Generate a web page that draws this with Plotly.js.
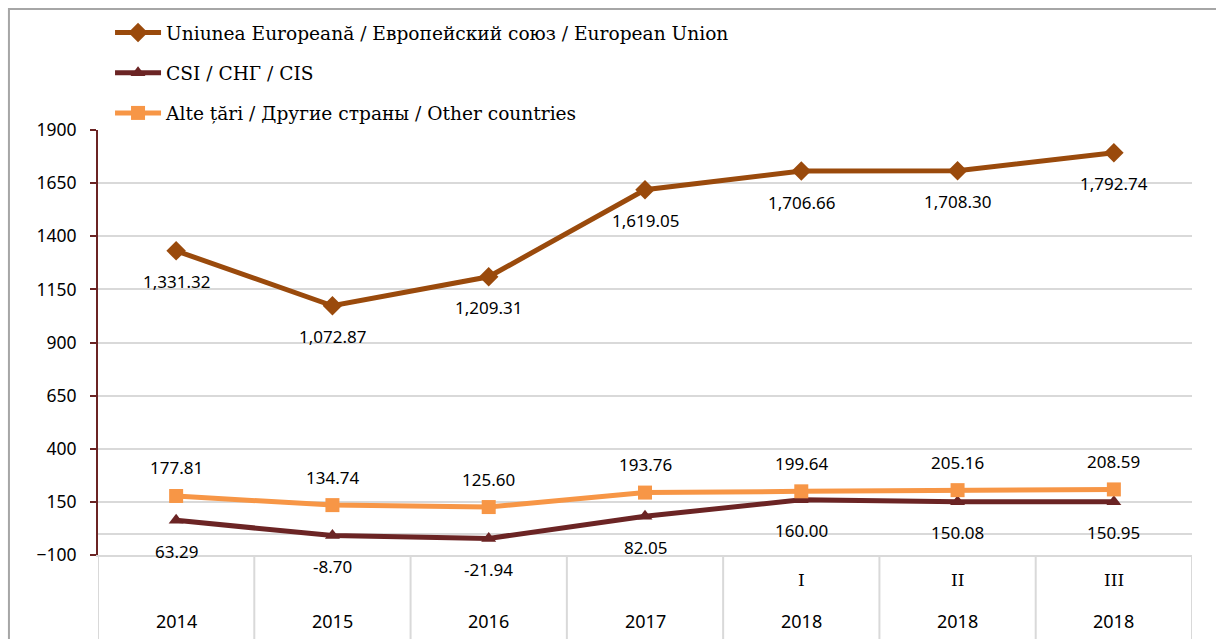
<!DOCTYPE html>
<html>
<head>
<meta charset="utf-8">
<script src="https://cdn.plot.ly/plotly-3.0.1.min.js"></script>
<style>
  html, body { margin: 0; padding: 0; background: #fff; }
  #chart { width: 1216px; height: 639px; }
</style>
</head>
<body>
<div id="chart"></div>
<script>
// Exports by destination group, 2014-2017 and 2018 quarters I-III
const categories = ["2014", "2015", "2016", "2017", "2018-I", "2018-II", "2018-III"];
const quarterLabels = ["", "", "", "", "I", "II", "III"];
const yearLabels = ["2014", "2015", "2016", "2017", "2018", "2018", "2018"];

const euValues = [1331.32, 1072.87, 1209.31, 1619.05, 1706.66, 1708.30, 1792.74];
const cisValues = [63.29, -8.70, -21.94, 82.05, 160.00, 150.08, 150.95];
const otherValues = [177.81, 134.74, 125.60, 193.76, 199.64, 205.16, 208.59];

const seriesNames = [
  "Uniunea Europeană / Европейский союз / European Union",
  "CSI / СНГ / CIS",
  "Alte țări / Другие страны / Other countries"
];

const sansFont = "Noto Sans, Lato, sans-serif";
const serifFont = "DejaVu Serif, Liberation Serif, serif";
const gridColor = "#d9d9d9";

const fmt = (v) => v.toLocaleString("en-US", { minimumFractionDigits: 2, maximumFractionDigits: 2 });

const series = [
  { name: seriesNames[0], y: euValues, color: "#9a4a0c", symbol: "diamond", size: 15, shift: -31 },
  { name: seriesNames[1], y: cisValues, color: "#6b2424", symbol: "triangle-up", size: 13, shift: -31 },
  { name: seriesNames[2], y: otherValues, color: "#f79646", symbol: "square", size: 14, shift: 28 }
];

const data = series.map((s, i) => ({
  x: categories, y: s.y, name: s.name, type: "scatter", mode: "lines+markers",
  legendgroup: "g" + i,
  line: { color: s.color, width: 5 },
  marker: { color: s.color, symbol: s.symbol, size: s.size },
  hoverinfo: "skip"
}));

const annotations = [];
// value labels (category index used as x so numeric-looking names are not misread)
series.forEach((s) => {
  s.y.forEach((v, j) => {
    annotations.push({
      x: j, y: v, xref: "x", yref: "y", text: fmt(v),
      showarrow: false, yshift: s.shift,
      font: { family: sansFont, size: 17, color: "#000" }
    });
  });
});
// two-row category labels
categories.forEach((c, j) => {
  if (quarterLabels[j]) {
    annotations.push({
      x: j, y: 0, xref: "x", yref: "paper", yanchor: "middle", yshift: -25,
      text: quarterLabels[j], showarrow: false,
      font: { family: serifFont, size: 17, color: "#000" }
    });
  }
  annotations.push({
    x: j, y: 0, xref: "x", yref: "paper", yanchor: "middle", yshift: -66,
    text: yearLabels[j], showarrow: false,
    font: { family: sansFont, size: 18, color: "#000" }
  });
});

// category dividers below the axis
const shapes = [];
for (let j = 0; j <= categories.length; j++) {
  shapes.push({
    type: "line", xref: "x", yref: "paper", x0: j - 0.5, x1: j - 0.5, y0: 0, y1: -0.25,
    line: { color: gridColor, width: 2 }
  });
}
// outer chart frame
shapes.push({
  type: "rect", xref: "paper", yref: "paper", x0: -0.0814, x1: 1.2, y0: -0.5, y1: 1.2847,
  line: { color: "#a6a6a6", width: 2 }, fillcolor: "rgba(0,0,0,0)"
});

const layout = {
  width: 1216, height: 639,
  margin: { l: 98, r: 24, t: 130, b: 84 },
  paper_bgcolor: "#fff", plot_bgcolor: "#fff",
  font: { family: sansFont, color: "#000" },
  showlegend: true,
  legend: {
    x: 0.011, xanchor: "left", y: 1.273, yanchor: "top",
    orientation: "v", tracegroupgap: 13, itemwidth: 46,
    font: { family: serifFont, size: 18.6, color: "#000" },
    bgcolor: "rgba(0,0,0,0)"
  },
  xaxis: {
    type: "category", range: [-0.5, 6.5], showticklabels: false,
    showgrid: false, zeroline: false, ticks: "",
    showline: true, linecolor: gridColor, linewidth: 2, fixedrange: true
  },
  yaxis: {
    range: [-100, 1900], tick0: -100, dtick: 250,
    showline: true, linecolor: "#6b2424", linewidth: 2,
    ticks: "outside", ticklen: 6, tickcolor: "#6b2424", tickwidth: 2,
    gridcolor: gridColor, gridwidth: 2,
    zeroline: true, zerolinecolor: gridColor, zerolinewidth: 2,
    tickfont: { family: sansFont, size: 17.5, color: "#000" },
    ticklabelstandoff: 10, fixedrange: true
  },
  annotations: annotations,
  shapes: shapes
};

Plotly.newPlot("chart", data, layout, { displayModeBar: false, responsive: false });
</script>
</body>
</html>
